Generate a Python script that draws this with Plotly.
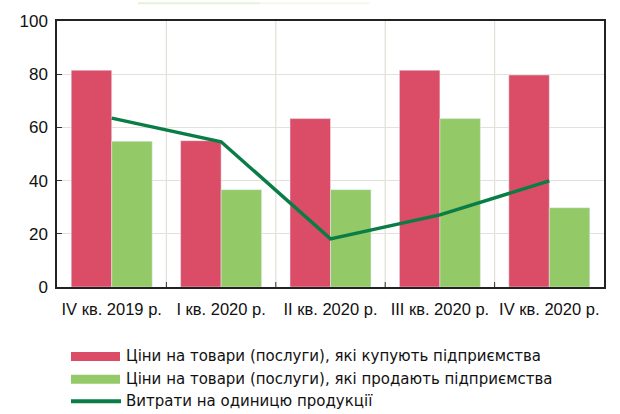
import plotly.graph_objects as go

categories = ["IV кв. 2019 р.", "I кв. 2020 р.", "II кв. 2020 р.", "III кв. 2020 р.", "IV кв. 2020 р."]
buy_prices = [81.5, 55.0, 63.3, 81.5, 79.7]
sell_prices = [54.8, 36.6, 36.6, 63.3, 29.8]
unit_costs = [63.5, 54.6, 18.1, 27.1, 39.9]
series_names = [
    "Ціни на товари (послуги), які купують підприємства",
    "Ціни на товари (послуги), які продають підприємства",
    "Витрати на одиницю продукції",
]
y_ticks = [0, 20, 40, 60, 80, 100]

RED = "#DB4C66"
GREEN = "#93C967"
DARK = "#0A7D46"
FONT = "Liberation Sans, Arial, sans-serif"
LEGEND_FONT = "DejaVu Sans, sans-serif"

fig = go.Figure()
fig.add_trace(go.Bar(x=categories, y=buy_prices, name=series_names[0], marker_color=RED))
fig.add_trace(go.Bar(x=categories, y=sell_prices, name=series_names[1], marker_color=GREEN))
fig.add_trace(go.Scatter(x=categories, y=unit_costs, name=series_names[2], mode="lines",
                         line=dict(color=DARK, width=3.5)))

W, H = 620, 414
ml, mr, mt, mb = 57, 16, 19, 127
pw, ph = W - ml - mr, H - mt - mb

def px2x(x):
    return (x - ml) / pw

def px2y(y):
    return (H - mb - y) / ph

shapes = []
annotations = []
# category separator gridlines
for i in range(1, len(categories)):
    shapes.append(dict(type="line", xref="x", yref="paper", x0=i - 0.5, x1=i - 0.5, y0=0, y1=1,
                       line=dict(color="#E2E2DA", width=1.3), layer="below"))
    shapes.append(dict(type="line", xref="x", yref="paper", x0=i - 0.5, x1=i - 0.5, y0=0, y1=5 / ph,
                       line=dict(color="#333333", width=1)))

# faint decoration at top-left
shapes.append(dict(type="rect", xref="paper", yref="paper", x0=px2x(138), x1=px2x(260),
                   y0=px2y(2), y1=px2y(0), fillcolor="#E4F2D8", line=dict(width=0)))
shapes.append(dict(type="rect", xref="paper", yref="paper", x0=px2x(260), x1=px2x(370),
                   y0=px2y(2), y1=px2y(0), fillcolor="#F3F9EE", line=dict(width=0)))

# manual legend
rows = [357, 380, 402]
for i, (name, yc) in enumerate(zip(series_names, rows)):
    if i < 2:
        shapes.append(dict(type="rect", xref="paper", yref="paper",
                           x0=px2x(71), x1=px2x(120), y0=px2y(yc - 4.5), y1=px2y(yc + 4.5),
                           fillcolor=[RED, GREEN][i], line=dict(width=0)))
    else:
        shapes.append(dict(type="line", xref="paper", yref="paper",
                           x0=px2x(71), x1=px2x(121), y0=px2y(yc), y1=px2y(yc),
                           line=dict(color=DARK, width=4)))
    annotations.append(dict(xref="paper", yref="paper", x=px2x(124), y=px2y(yc),
                            xanchor="left", yanchor="middle", text=name, showarrow=False,
                            font=dict(family=LEGEND_FONT, size=15, color="#111111")))

fig.update_layout(
    width=W, height=H,
    margin=dict(l=ml, r=mr, t=mt, b=mb),
    paper_bgcolor="white", plot_bgcolor="white",
    barmode="group", bargap=0.26, bargroupgap=0,
    showlegend=False,
    font=dict(family=FONT, size=16.5, color="#111111"),
    shapes=shapes, annotations=annotations,
    xaxis=dict(showgrid=False, showline=True, linecolor="#222222", linewidth=1.5, mirror=True,
               ticks="", tickfont=dict(size=16.5), range=[-0.5, len(categories) - 0.5],
               ticklabelstandoff=6),
    yaxis=dict(range=[0, 100], tickvals=y_ticks, showgrid=True, gridcolor="#E2E2DA", gridwidth=1.3,
               showline=True, linecolor="#222222", linewidth=1.5, mirror=True,
               ticks="inside", ticklen=5, tickcolor="#333333", zeroline=False,
               tickfont=dict(size=17), ticklabelstandoff=4),
)

fig.write_html("out.html", config={"displayModeBar": False},
               post_script="document.body.style.margin='0';document.body.style.overflow='hidden';")
